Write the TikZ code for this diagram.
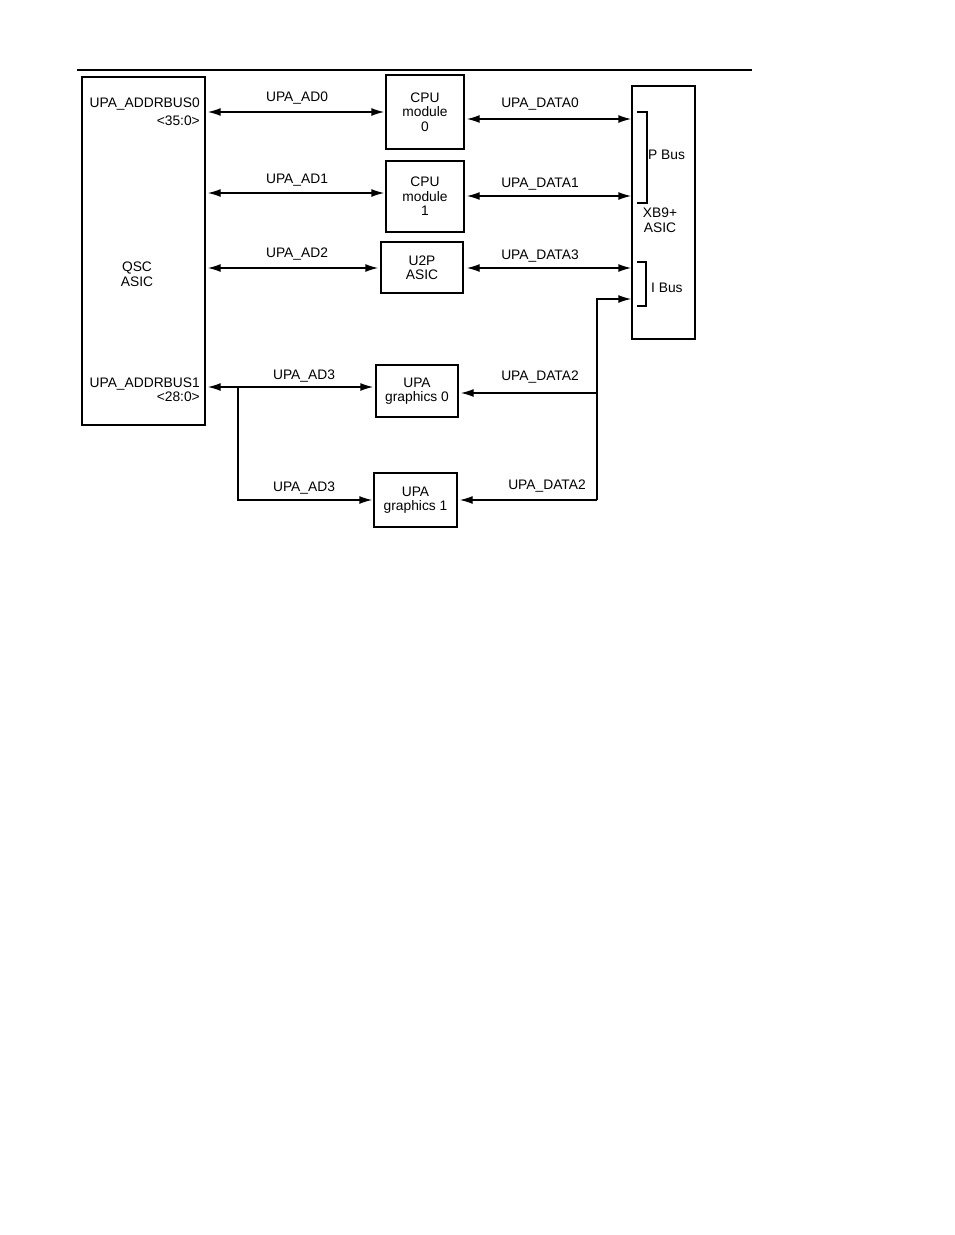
\documentclass[tikz,border=0pt]{standalone}
\usepackage{fontspec}
\setmainfont{Liberation Sans}
\usetikzlibrary{arrows.meta}
\begin{document}
\begin{tikzpicture}[x=1pt,y=-1pt,
  box/.style={draw,line width=1.4pt,inner sep=0pt,align=center,font=\fontsize{13.8}{14.5}\selectfont},
  lbl/.style={inner sep=0pt,font=\fontsize{13.8}{14.5}\selectfont},
  conn/.style={line width=1.4pt},
  arr/.style={conn,-{Latex[length=13pt,width=8pt]}},
  biarr/.style={conn,{Latex[length=13pt,width=8pt]}-{Latex[length=13pt,width=8pt]}},
]
\useasboundingbox[fill=white] (0,0) rectangle (954,1235);
% top rule
\coordinate (r1) at (77,70);
\coordinate (r2) at (752,70);
\draw[line width=1.5pt] (r1) -- (r2);

% boxes
\node[box,minimum width=78pt,minimum height=74pt] (cpu0) at (425,112) {CPU\\module\\0};
\node[box,minimum width=78pt,minimum height=71pt] (cpu1) at (425,196.5) {CPU\\module\\1};
\node[box,minimum width=82pt,minimum height=51pt] (u2p) at (422,267.5) {U2P\\ASIC};
\node[box,minimum width=82pt,minimum height=52pt] (g0) at (417,391) {UPA\\graphics 0};
\node[box,minimum width=83pt,minimum height=54pt] (g1) at (415.5,500) {UPA\\graphics 1};
\node[box,minimum width=123pt,minimum height=348pt] (qsc) at (143.5,251) {};
\node[box,minimum width=63pt,minimum height=253pt] (xb9) at (663.5,212.5) {};

% texts inside big boxes
\node[lbl,align=center] (qsct) at (137,274) {QSC\\ASIC};
\node[lbl,anchor=east] (ab0) at (200,104) {UPA\_ADDRBUS0};
\node[lbl,anchor=east] (ab0b) at (200,121) {<35:0>};
\node[lbl,anchor=east] (ab1) at (200,384) {UPA\_ADDRBUS1};
\node[lbl,anchor=east] (ab1b) at (200,397) {<28:0>};
\node[lbl,align=center] (xbt) at (660,220) {XB9+\\ASIC};
\node[lbl,anchor=west] (pbus) at (648,155) {P Bus};
\node[lbl,anchor=west] (ibus) at (651,288) {I Bus};

% bus brackets
\draw[line width=1.3pt] (637,112) -- (647,112) -- (647,203) -- (637,203);
\draw[line width=1.3pt] (637,262) -- (646,262) -- (646,306) -- (637,306);

% address connectors
\draw[biarr,shorten <=2pt,shorten >=1pt] (qsc.east |- cpu0.west) -- (cpu0.west);
\node[lbl] (lad0) at (297,98) {UPA\_AD0};
\coordinate (a1) at (300,193);
\draw[biarr,shorten <=2pt,shorten >=1pt] (qsc.east |- a1) -- (cpu1.west |- a1);
\node[lbl] (lad1) at (297,180) {UPA\_AD1};
\coordinate (a2) at (300,268);
\draw[biarr,shorten <=2pt,shorten >=2pt] (qsc.east |- a2) -- (u2p.west |- a2);
\node[lbl] (lad2) at (297,254) {UPA\_AD2};
\coordinate (k) at (238,387);
\draw[biarr,shorten <=2pt,shorten >=2pt] (qsc.east |- k) -- (g0.west |- k);
\node[lbl] (lad3) at (304,376) {UPA\_AD3};
\draw[arr,shorten >=1pt] (k) |- (g1.west);
\node[lbl] (lad3b) at (304,488) {UPA\_AD3};

% data connectors
\coordinate (d0) at (550,119);
\draw[biarr,shorten <=2pt] (cpu0.east |- d0) -- (xb9.west |- d0);
\node[lbl] (ld0) at (540,104) {UPA\_DATA0};
\coordinate (d1) at (550,196);
\draw[biarr,shorten <=2pt] (cpu1.east |- d1) -- (xb9.west |- d1);
\node[lbl] (ld1) at (540,184) {UPA\_DATA1};
\coordinate (d3) at (550,268);
\draw[biarr,shorten <=3pt] (u2p.east |- d3) -- (xb9.west |- d3);
\node[lbl] (ld3) at (540,256) {UPA\_DATA3};

\coordinate (jtop) at (597,299);
\coordinate (j) at (597,393);
\coordinate (jbot) at (597,500);
\draw[arr] (jbot) -- (jtop) -- (xb9.west |- jtop);
\draw[arr,shorten >=2pt] (j) -- (g0.east |- j);
\draw[arr,shorten >=2pt] (jbot) -- (g1.east |- jbot);
\node[lbl] (ld2) at (540,377) {UPA\_DATA2};
\node[lbl] (ld2b) at (547,486) {UPA\_DATA2};
\end{tikzpicture}
\end{document}
